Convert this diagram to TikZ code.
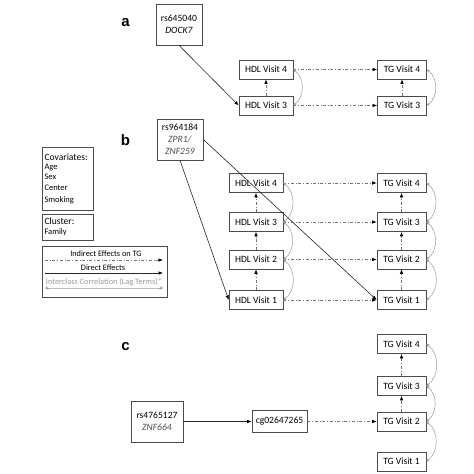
\documentclass[tikz,border=0pt]{standalone}
\usepackage{fontspec}
\setmainfont{Carlito}
\newfontfamily\panelfont{Liberation Sans}
\usetikzlibrary{arrows.meta}

\begin{document}
\begin{tikzpicture}[x=1pt,y=-1pt,
		>={Latex[black,length=4.5pt,width=3.5pt]},
		direct/.style={->,draw=black!85,line width=0.6pt},
		indirect/.style={->,draw=black!55,dash dot,line width=0.6pt},
		lag/.style={{Stealth[length=3pt,width=3pt]}-{Stealth[length=3pt,width=3pt]},draw=black!40,line width=0.5pt,bend right=55}]
		\useasboundingbox (0,0) rectangle (474,474);

		\begin{scope}[every node/.style={font=\panelfont\bfseries\fontsize{15}{18}\selectfont}]
			\node (la) at (125.5,22.5) {a};
			\node (lb) at (125.5,140) {b};
			\node (lc) at (125.5,346.5) {c};
		\end{scope}

		\begin{scope}[every node/.style={draw=black!70,line width=0.6pt,inner sep=1pt,align=center,
					  font=\fontsize{9.6}{12}\selectfont,minimum height=19pt},
					  snp/.style={minimum width=46pt,minimum height=41pt},
					  hdl/.style={minimum width=54pt},
					  tg/.style={minimum width=49pt}]
			% panel a
			\node[snp] (snpA) at (179,24.5) {rs645040\\\textit{DOCK7}};
			\node[hdl] (hdlA4) at (266,69.5) {HDL Visit 4};
			\node[hdl] (hdlA3) at (266,105.5) {HDL Visit 3};
			\node[tg] (tgA4) at (402,69.5) {TG Visit 4};
			\node[tg] (tgA3) at (402,105.5) {TG Visit 3};

			% panel b
			\node[snp] (snpB) at (180,139.5) {rs964184\\\textcolor{black!70}{\textit{ZPR1/}}\\\textcolor{black!70}{\textit{ZNF259}}};
			\node[hdl] (hdlB4) at (256,183) {HDL Visit 4};
			\node[hdl] (hdlB3) at (256,222) {HDL Visit 3};
			\node[hdl] (hdlB2) at (256,259.5) {HDL Visit 2};
			\node[hdl] (hdlB1) at (256,300) {HDL Visit 1};
			\node[tg] (tgB4) at (401.5,183) {TG Visit 4};
			\node[tg] (tgB3) at (401.5,222) {TG Visit 3};
			\node[tg] (tgB2) at (401.5,259.5) {TG Visit 2};
			\node[tg] (tgB1) at (401.5,300) {TG Visit 1};

			% panel c
			\node[snp,minimum width=52pt] (snpC) at (157,421.5) {rs4765127\\\textcolor{black!70}{\textit{ZNF664}}};
			\node[minimum width=55pt,minimum height=22pt] (cgC) at (279.5,421.5) {cg02647265};
			\node[tg] (tgC4) at (401.5,344) {TG Visit 4};
			\node[tg] (tgC3) at (401.5,386) {TG Visit 3};
			\node[tg] (tgC2) at (401.5,421.5) {TG Visit 2};
			\node[tg] (tgC1) at (401.5,461.5) {TG Visit 1};

			% covariates and legend
			\node[minimum width=51pt,minimum height=63pt,align=left,text width=46pt] (cov) at (67.5,178.5)
				{Covariates:\\[-1pt]{\fontsize{8.5}{10.3}\selectfont Age\\Sex\\Center\\Smoking}};
			\node[minimum width=51pt,minimum height=26pt,align=left,text width=46pt] (clu) at (67.5,227)
				{Cluster:\\[-2pt]{\fontsize{8.5}{10}\selectfont Family}};
			\node[minimum width=125pt,minimum height=51pt] (leg) at (104.5,271.5) {};
		\end{scope}

		\begin{scope}[every node/.style={font=\fontsize{8.3}{10}\selectfont,inner sep=0pt}]
			\node (legI) at (106,254) {Indirect Effects on TG};
			\node (legD) at (103,268) {Direct Effects};
			\node[text=black!40] (legL) at (104,282) {Interclass Correlation (Lag Terms)*};
			\coordinate (iA) at (45,260);
			\coordinate (iB) at (163,260);
			\coordinate (dA) at (45,273);
			\coordinate (dB) at (163,273);
			\coordinate (lA) at (45,288);
			\coordinate (lB) at (163,288);
		\end{scope}

		% direct effects
		\path (snpA.south) edge[direct] (hdlA3.west);
		\path (snpB.east) edge[direct] (tgB1.west);
		\path (snpB.south) edge[direct] (hdlB1.west);
		\path (snpC) edge[direct] (cgC);
		\path (dA) edge[direct] (dB);

		% indirect effects
		\path (hdlA4) edge[indirect] (tgA4);
		\path (hdlA3) edge[indirect] (tgA3);
		\path (hdlA3) edge[indirect] (hdlA4);
		\path (tgA3) edge[indirect] (tgA4);

		\path (hdlB4) edge[indirect] (tgB4);
		\path (hdlB3) edge[indirect] (tgB3);
		\path (hdlB2) edge[indirect] (tgB2);
		\path (hdlB1) edge[indirect] (tgB1);
		\path (hdlB1) edge[indirect] (hdlB2);
		\path (hdlB2) edge[indirect] (hdlB3);
		\path (hdlB3) edge[indirect] (hdlB4);
		\path (tgB1) edge[indirect] (tgB2);
		\path (tgB2) edge[indirect] (tgB3);
		\path (tgB3) edge[indirect] (tgB4);

		\path (cgC) edge[indirect] (tgC2);
		\path (tgC2) edge[indirect] (tgC3);
		\path (tgC3) edge[indirect] (tgC4);
		\path (iA) edge[indirect] (iB);

		% lag terms
		\path (hdlA3.east) edge[lag] (hdlA4.east);
		\path (tgA3.east) edge[lag] (tgA4.east);
		\path (hdlB1.east) edge[lag] (hdlB2.east);
		\path (hdlB2.east) edge[lag] (hdlB3.east);
		\path (hdlB3.east) edge[lag] (hdlB4.east);
		\path (tgB1.east) edge[lag] (tgB2.east);
		\path (tgB2.east) edge[lag] (tgB3.east);
		\path (tgB3.east) edge[lag] (tgB4.east);
		\path (tgC1.east) edge[lag] (tgC2.east);
		\path (tgC2.east) edge[lag] (tgC3.east);
		\path (tgC3.east) edge[lag] (tgC4.east);
		\path (lA) edge[lag,bend right=0] (lB);
\end{tikzpicture}
\end{document}
